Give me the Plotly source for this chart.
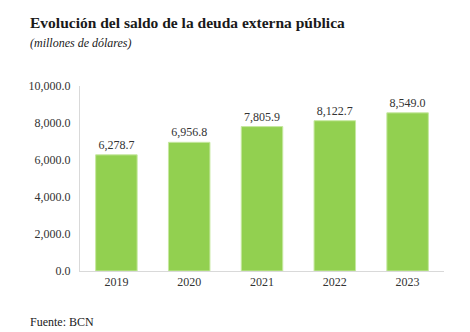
import plotly.graph_objects as go

years = ["2019", "2020", "2021", "2022", "2023"]
values = [6278.7, 6956.8, 7805.9, 8122.7, 8549.0]
labels = ["6,278.7", "6,956.8", "7,805.9", "8,122.7", "8,549.0"]
yticks = [0, 2000, 4000, 6000, 8000, 10000]
yticklabels = ["0.0", "2,000.0", "4,000.0", "6,000.0", "8,000.0", "10,000.0"]

FONT = "Liberation Serif, serif"

L, R, T, B, W, H = 80, 26, 86, 61, 470, 332

fig = go.Figure(go.Bar(
    x=years, y=values, text=labels, textposition="outside",
    marker=dict(color="#92D050", line=dict(color="#C6E8A0", width=1)),
    textfont=dict(family=FONT, size=12, color="#333333"),
    cliponaxis=False, width=0.57,
))

def px2paper(px, py):
    return (px - L) / (W - L - R), 1 - (py - T) / (H - T - B)

anns = []
for text, (px, py), size in [
    ("<b>Evolución del saldo de la deuda externa pública</b>", (28, 23), 15.5),
    ("<i>(millones de dólares)</i>", (28, 43), 12),
    ("Fuente: BCN", (28, 322), 12),
]:
    x, y = px2paper(px, py)
    anns.append(dict(text=text, xref="paper", yref="paper", x=x, y=y,
                     xanchor="left", yanchor="middle", showarrow=False,
                     font=dict(family=FONT, size=size, color="#1a1a1a")))

fig.update_layout(
    width=W, height=H,
    margin=dict(l=L, r=R, t=T, b=B),
    paper_bgcolor="white", plot_bgcolor="white",
    showlegend=False,
    font=dict(family=FONT, color="#333333"),
    xaxis=dict(showline=True, linecolor="#D9D9D9", linewidth=1, ticks="",
               tickfont=dict(family=FONT, size=12, color="#333333")),
    yaxis=dict(range=[0, 10000], tickvals=yticks, ticktext=yticklabels,
               showgrid=False, showline=True, linecolor="#D9D9D9", linewidth=1,
               ticks="", zeroline=False, ticklabelstandoff=6,
               tickfont=dict(family=FONT, size=12, color="#333333")),
    annotations=anns,
)

fig.write_html("out.html")
